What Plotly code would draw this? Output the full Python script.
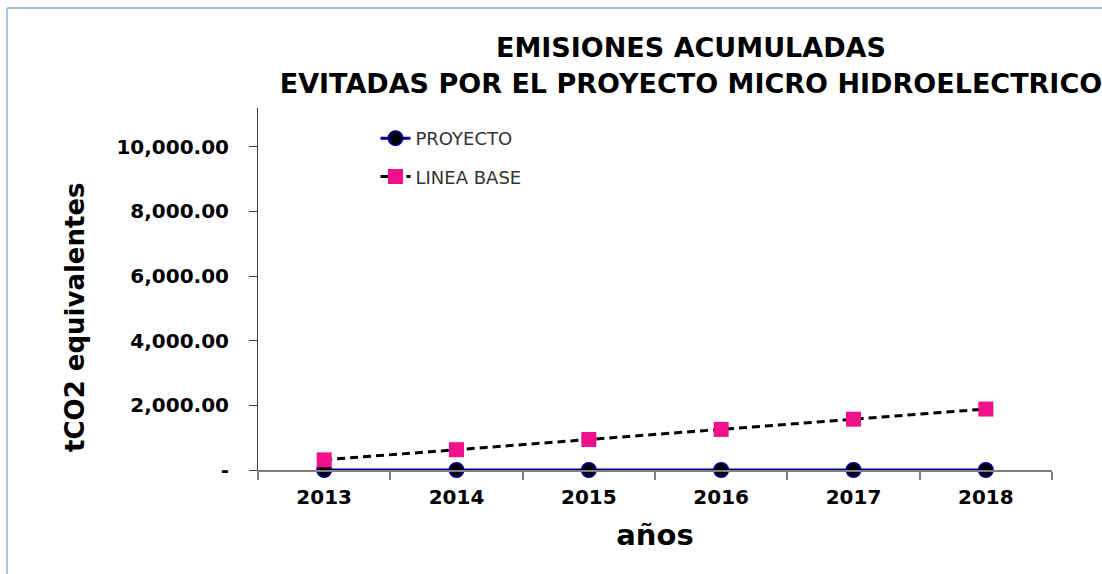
import plotly.graph_objects as go

# Cumulative avoided emissions (tCO2 equivalent) per year
years = ["2013", "2014", "2015", "2016", "2017", "2018"]
proyecto = [0, 0, 0, 0, 0, 0]
linea_base = [314, 629, 943, 1257, 1572, 1886]

y_ticks = [0, 2000, 4000, 6000, 8000, 10000]
y_ticktext = [f"{v:,.2f}" if v else "-" for v in y_ticks]

FONT = "DejaVu Sans"

fig = go.Figure()

fig.add_trace(go.Scatter(
    x=years, y=proyecto, name="PROYECTO", mode="lines+markers",
    line=dict(color="#000080", width=3),
    marker=dict(symbol="circle", size=14, color="#000000",
                line=dict(color="#000080", width=2)),
    cliponaxis=False, legendgroup="a",
))
fig.add_trace(go.Scatter(
    x=years, y=linea_base, name="LINEA BASE", mode="lines+markers",
    line=dict(color="#000000", width=3, dash="8px,5px"),
    marker=dict(symbol="square", size=15, color="#F0108A",
                line=dict(color="#F0108A", width=0)),
    cliponaxis=False, legendgroup="b",
))

# light blue frame along the top and left edges
fig.add_shape(type="line", xref="paper", yref="paper",
              x0=-0.3161, x1=-0.3161, y0=1.2762, y1=-0.30,
              line=dict(color="#A9C5EA", width=2))
fig.add_shape(type="line", xref="paper", yref="paper",
              x0=-0.3161, x1=1.07, y0=1.2762, y1=1.2762,
              line=dict(color="#A9C5EA", width=2))

# y-axis title, placed slightly below the plot's vertical centre
fig.add_annotation(
    text="<b>tCO2 equivalentes</b>", textangle=-90,
    xref="paper", yref="paper", x=-0.2305, y=0.4227,
    xanchor="center", yanchor="middle", showarrow=False,
    font=dict(family=FONT, size=26, color="#000000"),
)

fig.update_layout(
    width=1102, height=574,
    margin=dict(l=258, r=50, t=108, b=104),
    paper_bgcolor="white", plot_bgcolor="white",
    font=dict(family=FONT, color="#000000"),
    title=dict(
        text="<b>EMISIONES ACUMULADAS<br>EVITADAS POR EL PROYECTO MICRO HIDROELECTRICO</b>",
        x=0.627, xanchor="center", xref="container",
        y=0.90, yanchor="top", yref="container",
        font=dict(family=FONT, size=27, color="#000000"),
    ),
    showlegend=True,
    legend=dict(
        x=0.148, y=0.967, xanchor="left", yanchor="top",
        bgcolor="rgba(0,0,0,0)", tracegroupgap=12,
        font=dict(family=FONT, size=18, color="#333333"),
    ),
    xaxis=dict(
        type="category", range=[-0.5, 5.5],
        showline=True, linecolor="#808080", linewidth=2,
        ticks="outside", tickson="boundaries", ticklen=8,
        tickcolor="#808080", tickwidth=2,
        showgrid=False, zeroline=False,
        tickfont=dict(family=FONT, size=20, color="#000000", weight="bold"),
        ticklabelstandoff=8,
        title=dict(text="<b>años</b>", standoff=17,
                   font=dict(family=FONT, size=29, color="#000000")),
    ),
    yaxis=dict(
        range=[0, 11200],
        tickvals=y_ticks, ticktext=y_ticktext,
        showline=True, linecolor="#404040", linewidth=1,
        ticks="outside", ticklen=8, tickcolor="#404040",
        showgrid=False, zeroline=False,
        tickfont=dict(family=FONT, size=20, color="#000000", weight="bold"),
        ticklabelstandoff=16,
    ),
)

fig.write_html("out.html")
